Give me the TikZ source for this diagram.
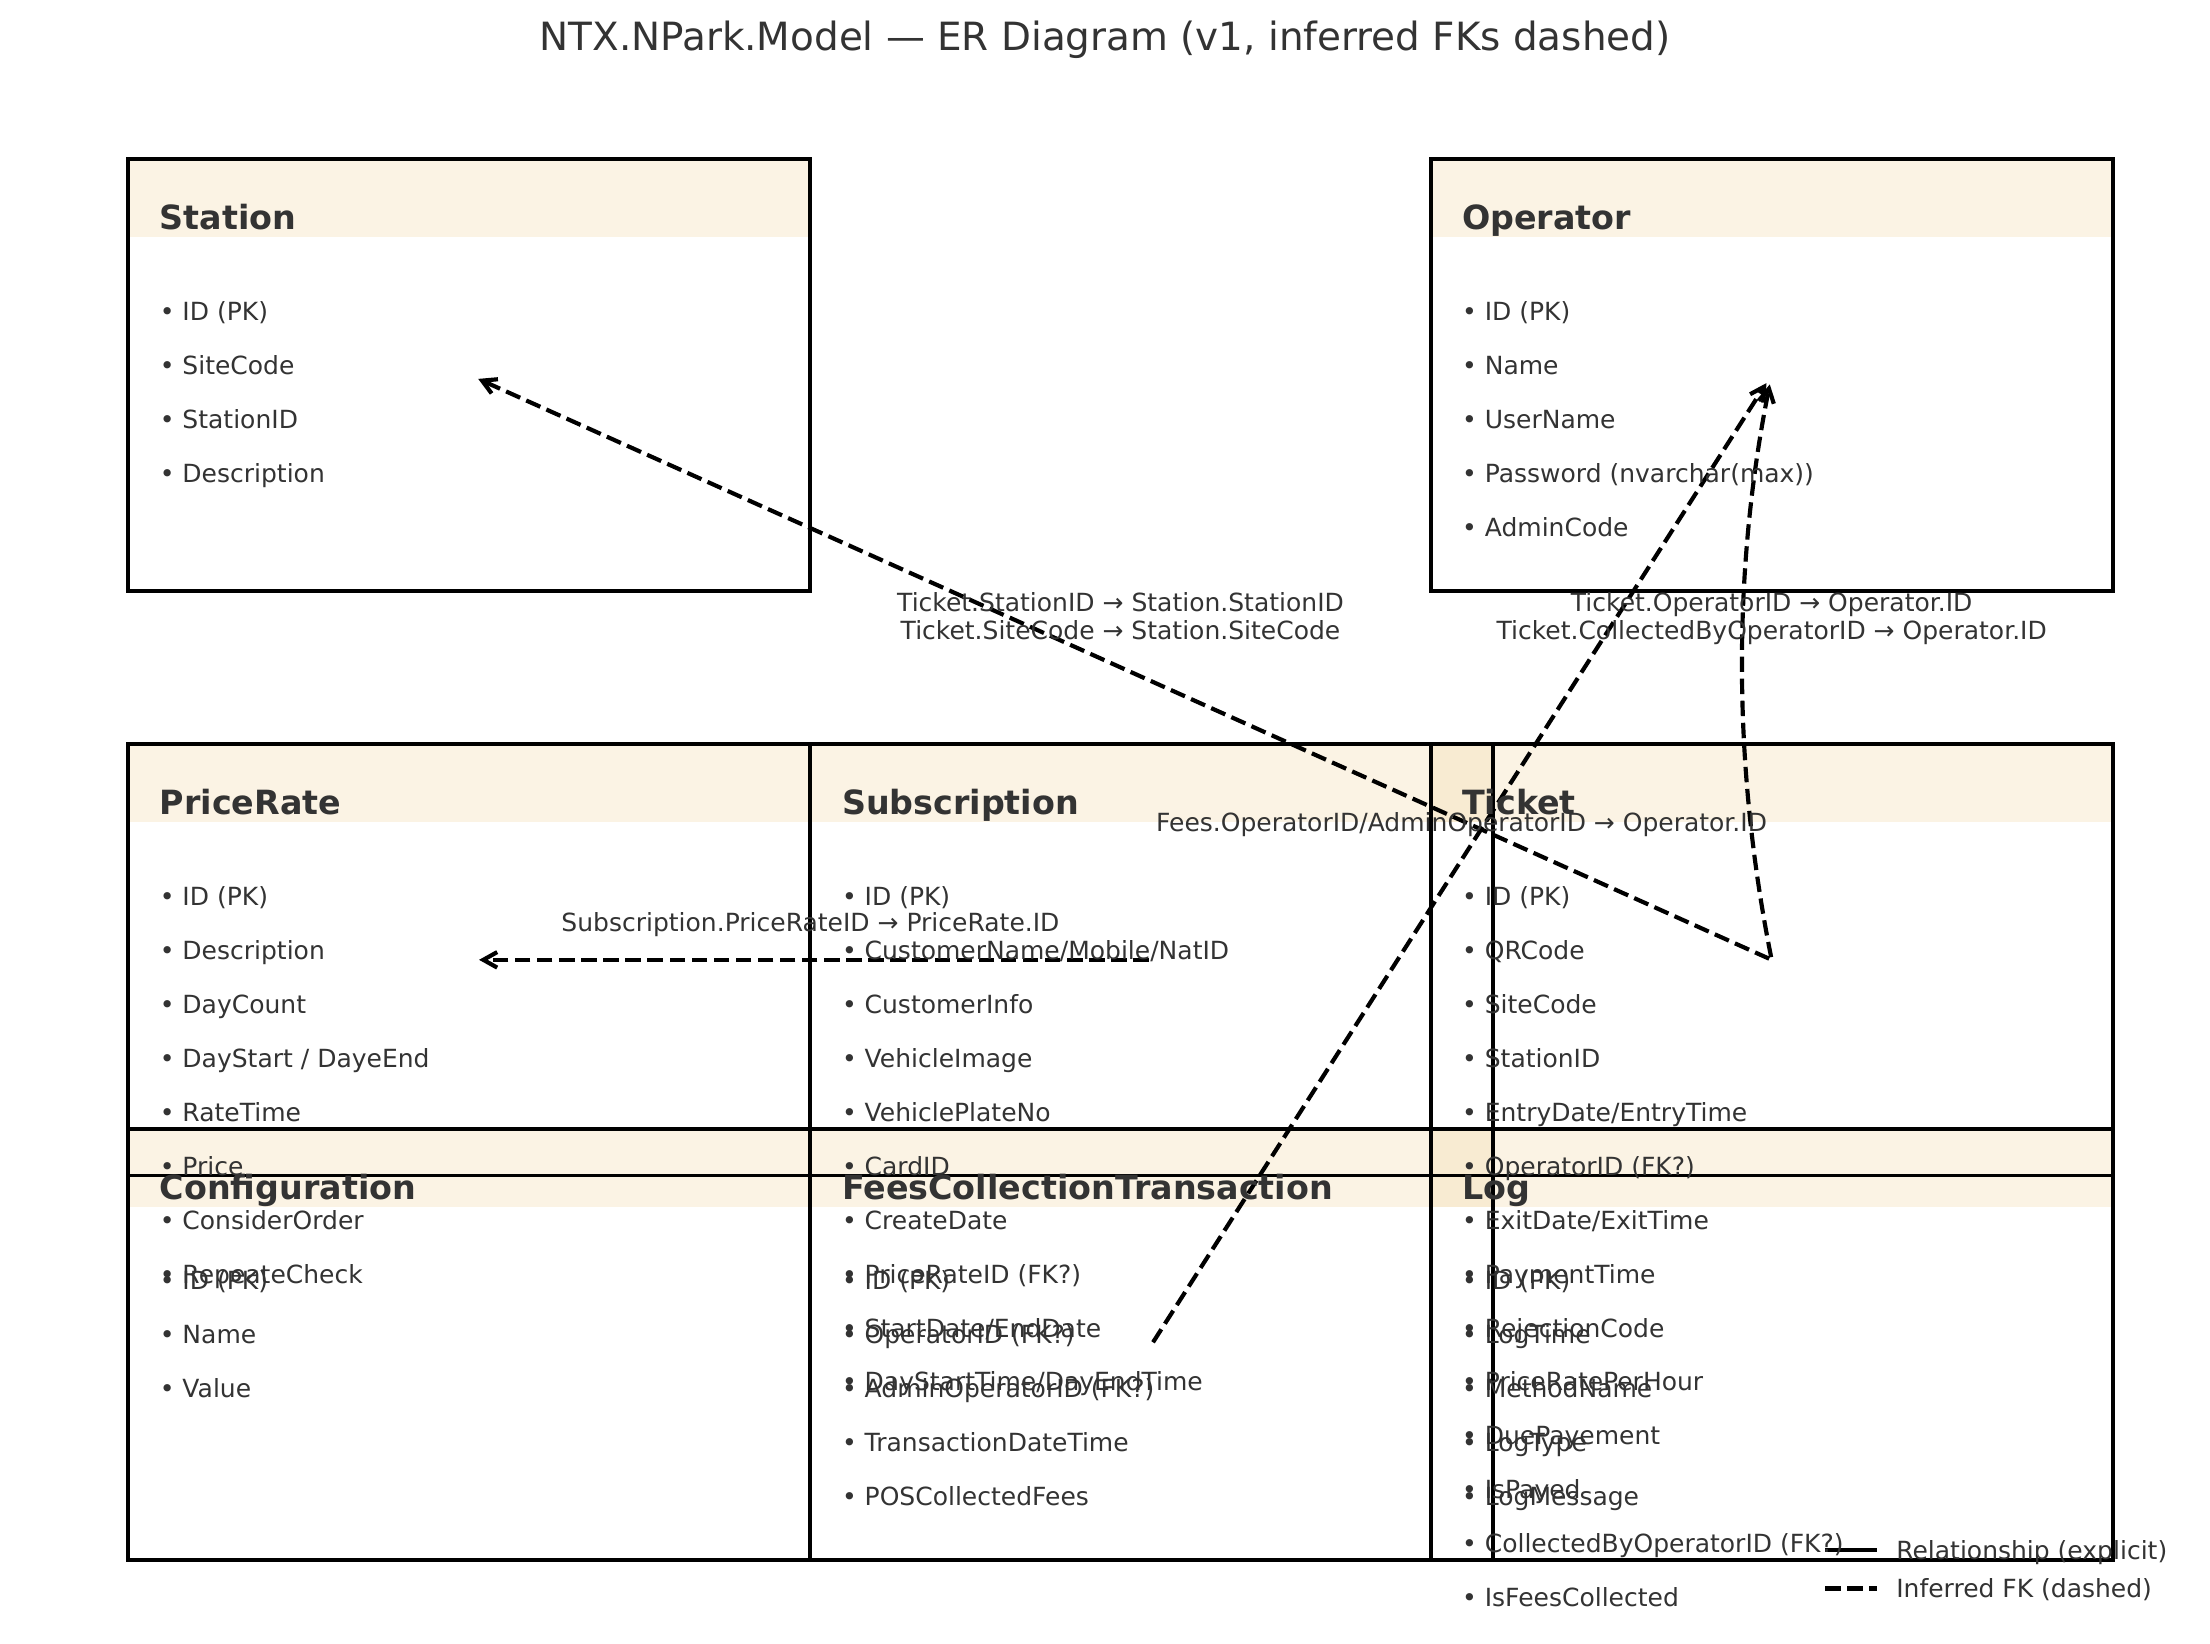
\documentclass[tikz,border=0pt]{standalone}
\usepackage{fontspec}
\setmainfont{DejaVu Sans}
\usetikzlibrary{arrows.meta,calc}
\definecolor{txtc}{HTML}{333333}
\definecolor{hdrc}{HTML}{F5DEB3}
\def\pxu{0.5074}
\tikzset{
  entbox/.style={draw=black, line width=1.4pt, rectangle, inner sep=0pt, outer sep=0pt,
    minimum width=\pxu*484pt, minimum height=\pxu*306pt},
  hdrband/.style={fill=hdrc, fill opacity=0.35},
  etitle/.style={font=\fontsize{12}{14}\selectfont\bfseries, text=txtc, inner sep=0pt, anchor=base west},
  item/.style={font=\fontsize{9}{11}\selectfont, text=txtc, inner sep=0pt, anchor=base west},
  lbl/.style={font=\fontsize{9}{11}\selectfont, text=txtc, inner sep=0pt, anchor=base},
  fk/.style={draw=black, line width=1.5pt, dash pattern=on 5.55pt off 2.4pt,
    -{Straight Barb[length=5pt,width=5.6pt]}, shorten >=3.5pt, shorten <=1pt},
  rel/.style={draw=black, line width=1.5pt},
  legdash/.style={draw=black, line width=1.5pt, dash pattern=on 5.55pt off 2.4pt},
}
\newcommand\entitems[2]{%
  \foreach \t [count=\i] in {#2} {
    \node[item] (#1-\i) at ($(#1.north west)+(22,{114.2+38.3*(\i-1)})$) {• \t};
  }%
}
\newcommand\enthead[2]{%
  \fill[hdrband] (#1.north west) rectangle ($(#1.north east)+(0,55)$);
}
\newcommand\enttitle[2]{%
  \node[etitle] (#1-title) at ($(#1.north west)+(22,50)$) {#2};
}
\begin{document}
\begin{tikzpicture}[x=0.5074pt,y=-0.5074pt]
\useasboundingbox (0,0) rectangle (1568,1166);
\fill[white] (0,0) rectangle (1568,1166);

% entity boxes (positions)
\path (333,266) node[entbox, draw=none] (station) {}
      (1257,266) node[entbox, draw=none] (operator) {}
      (333,681) node[entbox, draw=none] (pricerate) {}
      (817,681) node[entbox, draw=none] (subscription) {}
      (1257,681) node[entbox, draw=none] (ticket) {}
      (333,954) node[entbox, draw=none] (configuration) {}
      (817,954) node[entbox, draw=none] (fees) {}
      (1257,954) node[entbox, draw=none] (log) {};

% header bands
\enthead{station}{}
\enthead{operator}{}
\enthead{pricerate}{}
\enthead{subscription}{}
\enthead{ticket}{}
\enthead{configuration}{}
\enthead{fees}{}
\enthead{log}{}

% box outlines
\foreach \e in {station,operator,pricerate,subscription,ticket,configuration,fees,log}
  \draw[black, line width=1.4pt] (\e.north west) rectangle (\e.south east);

% connectors (inferred FKs)
\draw[fk] (ticket.center) -- (station.center);
\draw[fk] (ticket.center) .. controls ($(ticket.center)+(-27.7,-138.3)$) and ($(operator.center)+(-27.7,138.3)$) .. (operator.center);
\draw[fk] (subscription.center) -- (pricerate.center);
\draw[fk] (fees.center) -- (operator.center);

% legend
\coordinate (lg1a) at (1295,1100);
\coordinate (lg1b) at (1332,1100);
\coordinate (lg2a) at (1295,1127);
\coordinate (lg2b) at (1332,1127);
\draw[rel] (lg1a) -- (lg1b);
\draw[legdash] (lg2a) -- (lg2b);

% title
\node[font=\fontsize{14}{17}\selectfont, text=txtc, anchor=base, inner sep=0pt] (title) at (784,36)
  {NTX.NPark.Model — ER Diagram (v1, inferred FKs dashed)};

% entity titles
\enttitle{station}{Station}
\enttitle{operator}{Operator}
\enttitle{pricerate}{PriceRate}
\enttitle{subscription}{Subscription}
\enttitle{ticket}{Ticket}
\enttitle{configuration}{Configuration}
\enttitle{fees}{FeesCollectionTransaction}
\enttitle{log}{Log}

% entity attributes
\entitems{station}{ID (PK), SiteCode, StationID, Description}
\entitems{operator}{ID (PK), Name, UserName, Password (nvarchar(max)), AdminCode}
\entitems{pricerate}{ID (PK), Description, DayCount, DayStart / DayeEnd, RateTime, Price, ConsiderOrder, RepeateCheck}
\entitems{subscription}{ID (PK), CustomerName/Mobile/NatID, CustomerInfo, VehicleImage, VehiclePlateNo, CardID, CreateDate, PriceRateID (FK?), StartDate/EndDate, DayStartTime/DayEndTime}
\entitems{ticket}{ID (PK), QRCode, SiteCode, StationID, EntryDate/EntryTime, OperatorID (FK?), ExitDate/ExitTime, PaymentTime, RejectionCode, PriceRatePerHour, DuePayement, IsPayed, CollectedByOperatorID (FK?), IsFeesCollected}
\entitems{configuration}{ID (PK), Name, Value}
\entitems{fees}{ID (PK), OperatorID (FK?), AdminOperatorID (FK?), TransactionDateTime, POSCollectedFees}
\entitems{log}{ID (PK), LogTime, MethodName, LogType, LogMessage}

% connector labels
\node[lbl] (lst1) at ($(ticket.center)!0.5!(station.center)+(0,-40)$) {Ticket.StationID → Station.StationID};
\node[lbl] (lst2) at ($(ticket.center)!0.5!(station.center)+(0,-20)$) {Ticket.SiteCode → Station.SiteCode};
\node[lbl] (lop1) at ($(ticket.center)!0.5!(operator.center)+(0,-40)$) {Ticket.OperatorID → Operator.ID};
\node[lbl] (lop2) at ($(ticket.center)!0.5!(operator.center)+(0,-20)$) {Ticket.CollectedByOperatorID → Operator.ID};
\node[lbl] (lsp) at ($(subscription.center)!0.5!(pricerate.center)+(0,-20)$) {Subscription.PriceRateID → PriceRate.ID};
\node[lbl] (lfo) at ($(fees.center)!0.5!(operator.center)+(0,-20)$) {Fees.OperatorID/AdminOperatorID → Operator.ID};

% legend texts
\node[item] (lg1t) at (1345,1106.4) {Relationship (explicit)};
\node[item] (lg2t) at (1345,1133.4) {Inferred FK (dashed)};
\end{tikzpicture}
\end{document}
